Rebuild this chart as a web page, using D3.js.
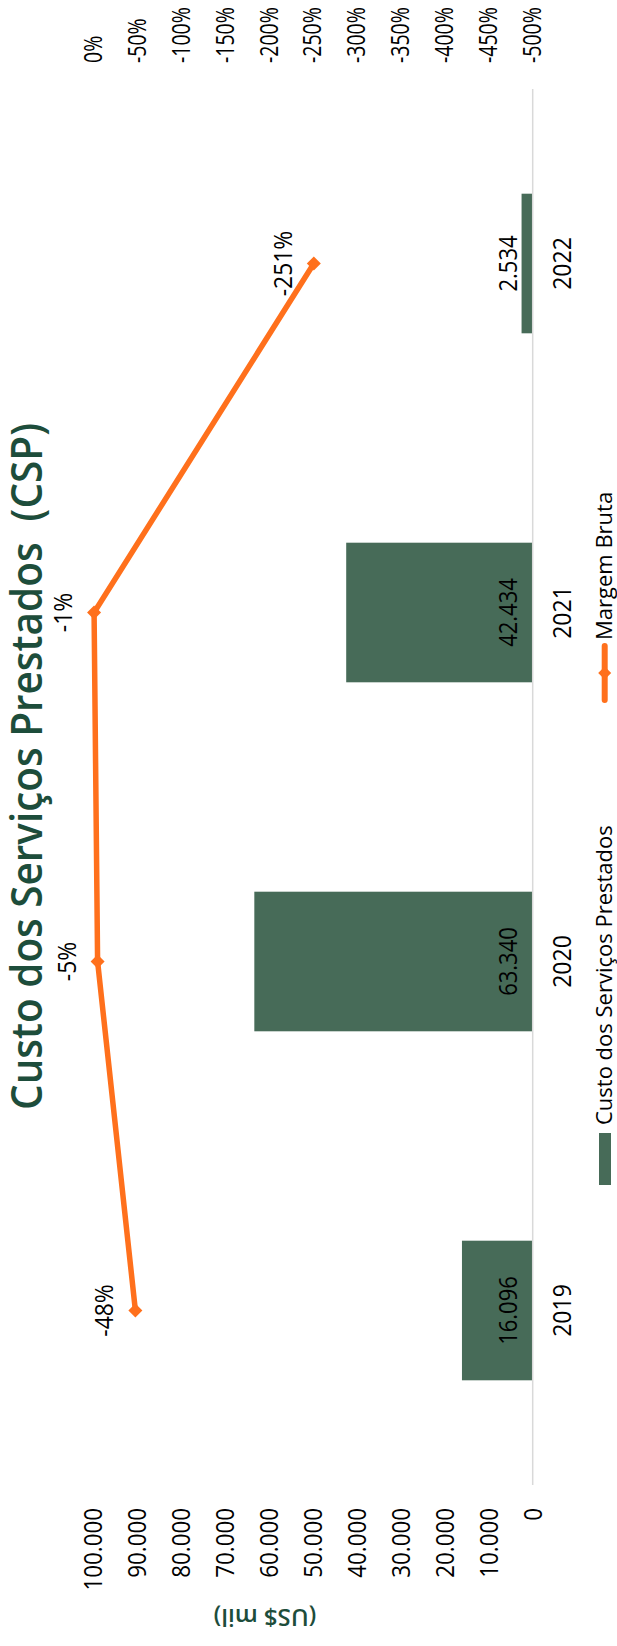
<!DOCTYPE html>
<html>
<head>
<meta charset="utf-8">
<script src="https://cdn.jsdelivr.net/npm/d3@7"></script>
<style>
  html, body { margin: 0; padding: 0; background: #fff; }
  svg { display: block; font-family: "Open Sans", sans-serif; }
</style>
</head>
<body>
<svg id="chart" width="617" height="1646"></svg>
<script>
// ---- data ----
const categories = ["2019", "2020", "2021", "2022"];
const custoValues = [16096, 63340, 42434, 2534];
const margemValues = [-0.48, -0.05, -0.01, -2.51];
const leftTickValues = [0, 10000, 20000, 30000, 40000, 50000, 60000, 70000, 80000, 90000, 100000];
const rightTickValues = [0, -0.5, -1, -1.5, -2, -2.5, -3, -3.5, -4, -4.5, -5];
const titleText = "Custo dos Serviços Prestados  (CSP)";
const axisTitleText = "(US$ mil)";
const seriesNames = ["Custo dos Serviços Prestados", "Margem Bruta"];

// ---- style ----
const barColor = "#476b58";
const lineColor = "#ff701c";
const darkGreen = "#1d4d3b";
const axisColor = "#d9d9d9";

const locale = d3.formatLocale({decimal: ",", thousands: ".", grouping: [3], currency: ["", ""], minus: "-"});
const fmtNum = locale.format(",.0f");
const fmtPct = locale.format(".0%");

// Chart is drawn in landscape (1646 x 617) then rotated -90deg into the portrait page
const W = 1646, H = 617;
const svg = d3.select("#chart");
const g = svg.append("g").attr("transform", `translate(0,${W}) rotate(-90)`);

const x = d3.scaleBand().domain(categories).range([161, 1557]).paddingInner(0.6).paddingOuter(0.3);
const yL = d3.scaleLinear().domain([0, 100000]).range([532.7, 93.2]);
const yR = d3.scaleLinear().domain([-5, 0]).range([532.7, 93.2]);

function squeeze(sel, f) {
  sel.each(function() {
    const len = this.getComputedTextLength();
    this.setAttribute("textLength", len * f);
    this.setAttribute("lengthAdjust", "spacingAndGlyphs");
  });
}

// Title
const title = g.append("text")
  .attr("x", 536).attr("y", 42)
  .style("white-space", "pre")
  .attr("font-size", 43).attr("font-weight", 600)
  .attr("fill", darkGreen)
  .text(titleText);
title.attr("textLength", 687).attr("lengthAdjust", "spacingAndGlyphs");

// Left axis
const axL = g.append("g").attr("transform", "translate(138,0)")
  .call(d3.axisLeft(yL).tickValues(leftTickValues).tickSize(0).tickPadding(0).tickFormat(fmtNum));
axL.select(".domain").remove();
axL.selectAll("text").attr("font-size", 26).attr("font-family", "Open Sans").attr("fill", "#000");
squeeze(axL.selectAll("text"), 0.86);

// Right axis
const axR = g.append("g").attr("transform", "translate(1583,0)")
  .call(d3.axisRight(yR).tickValues(rightTickValues).tickSize(0).tickPadding(0).tickFormat(fmtPct));
axR.select(".domain").remove();
axR.selectAll("text").attr("font-size", 25).attr("font-family", "Open Sans").attr("fill", "#000");
squeeze(axR.selectAll("text"), 0.78);

// Left axis title
g.append("text")
  .attr("transform", `translate(27.5,265) rotate(-90)`)
  .attr("text-anchor", "middle").attr("dominant-baseline", "central")
  .attr("font-size", 24).attr("font-weight", 600).attr("fill", darkGreen)
  .text(axisTitleText);

// Bars
g.selectAll("rect.bar").data(custoValues).join("rect").attr("class", "bar")
  .attr("x", (d, i) => x(categories[i]))
  .attr("width", x.bandwidth())
  .attr("y", d => yL(d))
  .attr("height", d => yL(0) - yL(d))
  .attr("fill", barColor);

// Category axis line
g.append("line")
  .attr("x1", x.range()[0]).attr("x2", x.range()[1])
  .attr("y1", yL(0)).attr("y2", yL(0))
  .attr("stroke", axisColor).attr("stroke-width", 1.5);

// Category labels
const catLabels = g.selectAll("text.cat").data(categories).join("text").attr("class", "cat")
  .attr("x", d => x(d) + x.bandwidth() / 2)
  .attr("y", 570.7)
  .attr("text-anchor", "middle").attr("font-size", 25).attr("fill", "#000")
  .text(d => d);
squeeze(catLabels, 0.92);

// Bar data labels (inside base)
const barLabels = g.selectAll("text.blab").data(custoValues).join("text").attr("class", "blab")
  .attr("x", (d, i) => x(categories[i]) + x.bandwidth() / 2)
  .attr("y", yL(0) - 16)
  .attr("text-anchor", "middle").attr("font-size", 25).attr("fill", "#000")
  .text(d => fmtNum(d));
squeeze(barLabels, 0.88);

// Line
const cx = (i) => x(categories[i]) + x.bandwidth() / 2;
g.append("path").datum(margemValues)
  .attr("d", d3.line().x((d, i) => cx(i)).y(d => yR(d)))
  .attr("fill", "none").attr("stroke", lineColor).attr("stroke-width", 5.5)
  .attr("stroke-linejoin", "round").attr("stroke-linecap", "round");

const diamond = (r) => `M0,${-r}L${r},0L0,${r}L${-r},0Z`;
g.selectAll("path.mk").data(margemValues).join("path").attr("class", "mk")
  .attr("transform", (d, i) => `translate(${cx(i)},${yR(d)})`)
  .attr("d", diamond(7))
  .attr("fill", lineColor);

// Line data labels
const pctLabels = g.selectAll("text.plab").data(margemValues).join("text").attr("class", "plab")
  .attr("x", (d, i) => cx(i))
  .attr("y", d => yR(d) - 22)
  .attr("text-anchor", "middle").attr("font-size", 26).attr("fill", "#000")
  .text(d => fmtPct(d));
squeeze(pctLabels, 0.88);

// Legend
const leg = g.append("g");
leg.append("rect").attr("x", 461).attr("y", 599).attr("width", 52).attr("height", 12).attr("fill", barColor);
leg.append("text").attr("x", 521).attr("y", 611.5).attr("font-size", 22).attr("fill", "#000").text(seriesNames[0]);
leg.append("line").attr("x1", 946).attr("x2", 1000).attr("y1", 604.7).attr("y2", 604.7)
  .attr("stroke", lineColor).attr("stroke-width", 6).attr("stroke-linecap", "round");
leg.append("path").attr("transform", "translate(973,604.7)").attr("d", diamond(6.5)).attr("fill", lineColor);
leg.append("text").attr("x", 1006).attr("y", 612).attr("font-size", 22).attr("fill", "#000").text(seriesNames[1]);
</script>
</body>
</html>
